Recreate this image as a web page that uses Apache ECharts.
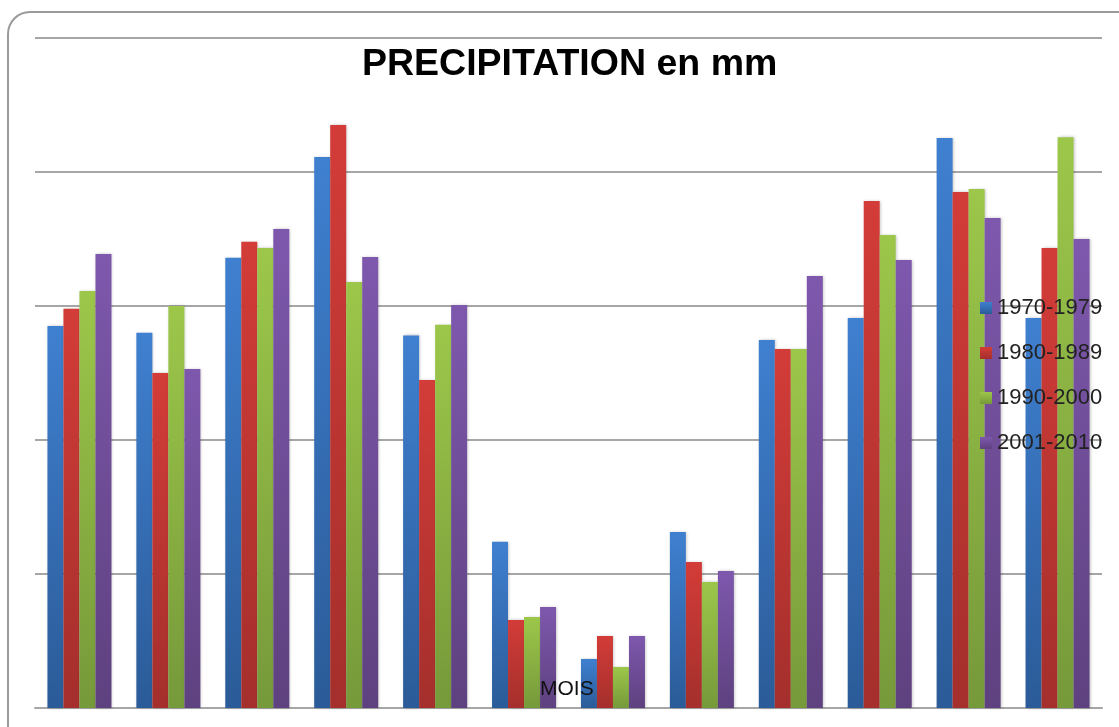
<!DOCTYPE html>
<html>
<head>
<meta charset="utf-8">
<script src="https://cdn.jsdelivr.net/npm/echarts@6/dist/echarts.min.js"></script>
<style>
html,body{margin:0;padding:0;background:#fff;}
#chart{width:1119px;height:727px;}
</style>
</head>
<body>
<div id="chart"></div>
<script>
const months = ["Janvier","Février","Mars","Avril","Mai","Juin","Juillet","Août","Septembre","Octobre","Novembre","Décembre"];
const seriesNames = ["1970-1979","1980-1989","1990-2000","2001-2010"];
const s1970 = [142.5,140,168,205.6,139,62,18.3,65.7,137.3,145.5,212.7,145.5];
const s1980 = [149,125,174,217.5,122.4,32.8,26.9,54.5,134,189.2,192.5,171.6];
const s1990 = [155.6,150,171.6,159,143,34,15.3,47,134,176.5,193.7,213];
const s2001 = [169.4,126.5,178.7,168.3,150.4,37.7,26.9,51.1,161.2,167.2,182.8,175];
const yMax = 250, yInterval = 50;
const axisTitle = 'MOIS';

const colors = [
  ["#3f80d0","#2b5b98"],
  ["#d33c38","#a42f2c"],
  ["#9cc74a","#76993a"],
  ["#7e58ad","#5e417f"]
];
const grad = c => new echarts.graphic.LinearGradient(0,0,0,1,[{offset:0,color:c[0]},{offset:1,color:c[1]}]);
const allData = [s1970,s1980,s1990,s2001];

const chart = echarts.init(document.getElementById('chart'));
chart.setOption({
  animation:false,
  color: colors.map(c=>c[0]),
  graphic:[{
    type:'rect', z:-10,
    shape:{x:8,y:12,width:1140,height:740,r:22},
    style:{fill:'#fff',stroke:'#9a9a9a',lineWidth:2}
  },{
    type:'text', z:100, left:540, top:679,
    style:{text:axisTitle, fontFamily:'Liberation Sans', fontSize:21, fill:'#111'}
  }],
  title:{
    text:'PRECIPITATION en mm',
    left:357, top:41,
    textStyle:{fontFamily:'Liberation Sans',fontWeight:'bold',fontSize:37.5,color:'#000'}
  },
  legend:{
    orient:'vertical', left:975, top:292,
    itemWidth:12, itemHeight:12, itemGap:23,
    icon:'rect',
    textStyle:{fontFamily:'Liberation Sans',fontSize:22,color:'#222'},
    data: seriesNames
  },
  grid:{left:35,right:17,top:38,bottom:19,containLabel:false},
  xAxis:{
    type:'category', data:months,
    axisLine:{lineStyle:{color:'#a6a6a6',width:2}},
    axisTick:{show:false}, axisLabel:{show:false}
  },
  yAxis:{
    type:'value', min:0, max:yMax, interval:yInterval,
    axisLabel:{show:false}, axisLine:{show:false}, axisTick:{show:false},
    splitLine:{lineStyle:{color:'#a6a6a6',width:2}}
  },
  series: seriesNames.map((n,i)=>({
    name:n, type:'bar', data:allData[i],
    barGap:'0%', barCategoryGap:'28%',
    itemStyle:{color:grad(colors[i]), shadowColor:'rgba(0,0,0,0.25)', shadowBlur:3, shadowOffsetX:1}
  }))
});
</script>
</body>
</html>
